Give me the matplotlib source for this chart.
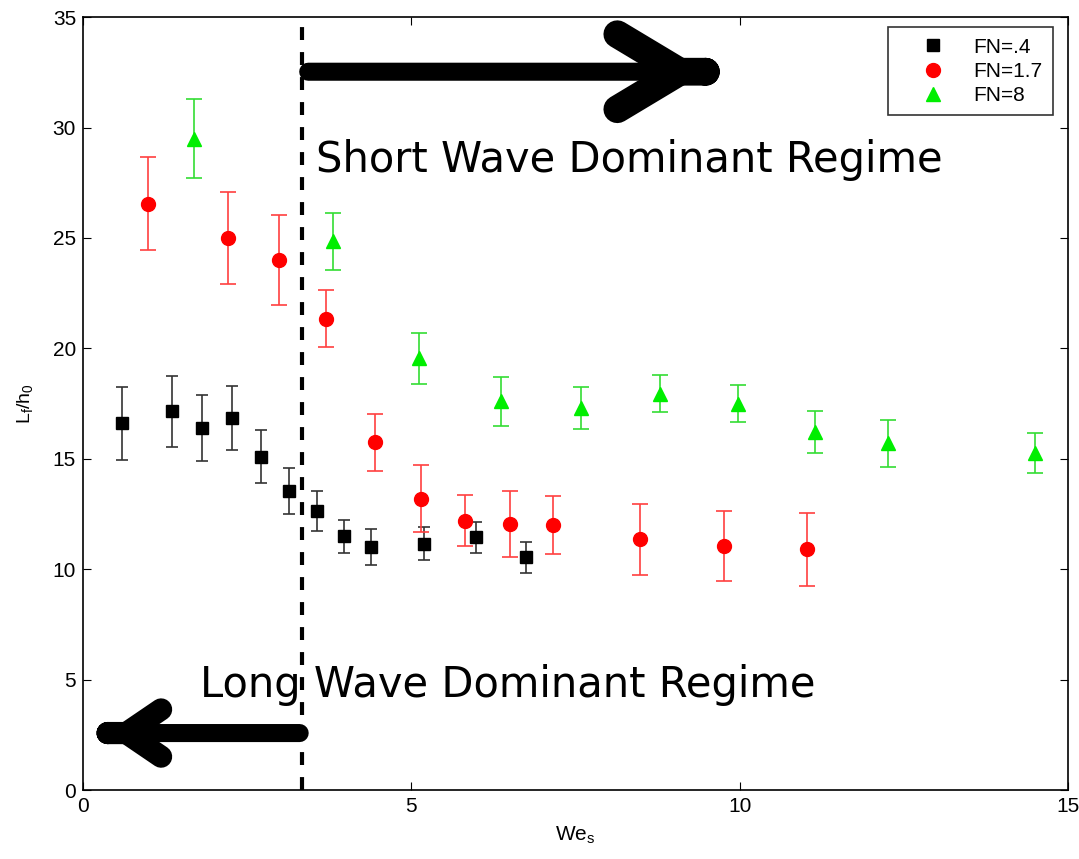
import matplotlib
matplotlib.use("Agg")
import matplotlib.pyplot as plt

# ---- data ----
we_fn04 = [0.59, 1.36, 1.81, 2.27, 2.71, 3.14, 3.57, 3.98, 4.39, 5.20, 5.98, 6.75]
l_fn04 = [16.6, 17.15, 16.4, 16.85, 15.1, 13.55, 12.65, 11.5, 11.0, 11.15, 11.45, 10.55]
err_fn04 = [1.65, 1.6, 1.5, 1.45, 1.2, 1.05, 0.9, 0.75, 0.8, 0.75, 0.7, 0.7]

we_fn17 = [0.99, 2.21, 2.99, 3.70, 4.45, 5.14, 5.82, 6.51, 7.16, 8.49, 9.76, 11.02]
l_fn17 = [26.55, 25.0, 24.0, 21.35, 15.75, 13.2, 12.2, 12.05, 12.0, 11.35, 11.05, 10.9]
err_fn17 = [2.1, 2.1, 2.05, 1.3, 1.3, 1.5, 1.15, 1.5, 1.3, 1.6, 1.6, 1.65]

we_fn8 = [1.69, 3.80, 5.11, 6.37, 7.59, 8.78, 9.97, 11.14, 12.26, 14.50]
l_fn8 = [29.5, 24.85, 19.55, 17.6, 17.3, 17.95, 17.5, 16.2, 15.7, 15.25]
err_fn8 = [1.8, 1.3, 1.15, 1.1, 0.95, 0.85, 0.85, 0.95, 1.05, 0.9]

labels = ["FN=.4", "FN=1.7", "FN=8"]
boundary_we = 3.34
regime_texts = ["Short Wave Dominant Regime", "Long Wave Dominant Regime"]

plt.rcParams['font.family'] = ['Liberation Sans', 'DejaVu Sans']

fig = plt.figure(figsize=(10.79, 8.59), dpi=100)
ax = fig.add_axes([0.0769, 0.0803, 0.9129, 0.8997])

c1 = ax.errorbar(we_fn04, l_fn04, yerr=err_fn04, fmt='s', color='black', ecolor='#333333',
                 markersize=8.5, capsize=4.5, elinewidth=1.2, capthick=1.2, zorder=3)
c2 = ax.errorbar(we_fn17, l_fn17, yerr=err_fn17, fmt='o', color='#ff0000', ecolor='#ff4040',
                 markersize=10, capsize=5.5, elinewidth=1.2, capthick=1.2, zorder=3)
c3 = ax.errorbar(we_fn8, l_fn8, yerr=err_fn8, fmt='^', color='#00ee00', ecolor='#33dd33',
                 markersize=10.5, capsize=5.5, elinewidth=1.2, capthick=1.2, zorder=3)

ax.axvline(boundary_we, color='black', lw=3, ls=(0, (3.1, 2.9)), zorder=2)

ax.set_xlim(0, 15)
ax.set_ylim(0, 35)
ax.set_xticks([0, 5, 10, 15])
ax.set_yticks(range(0, 36, 5))
ax.tick_params(direction='in', labelsize=15, length=6, top=True, right=True, pad=5)
ax.set_xlabel('We$_\\mathregular{s}$', fontsize=15, labelpad=6)
ax.set_ylabel('L$_\\mathregular{f}$/h$_\\mathregular{0}$', fontsize=14, labelpad=12)
for s in ax.spines.values():
    s.set_linewidth(1.2)

leg = ax.legend([c1[0], c2[0], c3[0]], labels, loc='upper right', fontsize=15,
                frameon=True, fancybox=False, edgecolor='black', numpoints=1,
                handlelength=3.3, handletextpad=0.3, borderpad=0.5, labelspacing=0.25,
                borderaxespad=0, bbox_to_anchor=(0.9848, 0.987))
leg.get_frame().set_linewidth(1.2)


def draw_arrow(start, end, shaft_lw, head_lw, head_len, head_w, back):
    ax.annotate('', xy=end, xytext=start,
                arrowprops=dict(arrowstyle='-', lw=shaft_lw, color='black',
                                capstyle='round', shrinkA=0, shrinkB=0), zorder=4)
    dx = end[0] - start[0]
    tail = (end[0] - back * (1 if dx > 0 else -1), end[1])
    ax.annotate('', xy=end, xytext=tail,
                arrowprops=dict(arrowstyle=f'->,head_length={head_len},head_width={head_w}',
                                lw=head_lw, color='black', mutation_scale=100,
                                capstyle='round', joinstyle='round',
                                shrinkA=0, shrinkB=0), zorder=4)


draw_arrow((3.43, 32.53), (9.5, 32.53), 13, 20, 0.45, 0.27, 0.02)
draw_arrow((3.3, 2.58), (0.36, 2.58), 13, 16, 0.25, 0.17, 0.02)

ax.text(3.55, 28.55, regime_texts[0], fontsize=30, family='DejaVu Sans',
        va='center', ha='left')
ax.text(1.78, 4.75, regime_texts[1], fontsize=30, family='DejaVu Sans',
        va='center', ha='left')

fig.savefig('out.png', dpi=100)
